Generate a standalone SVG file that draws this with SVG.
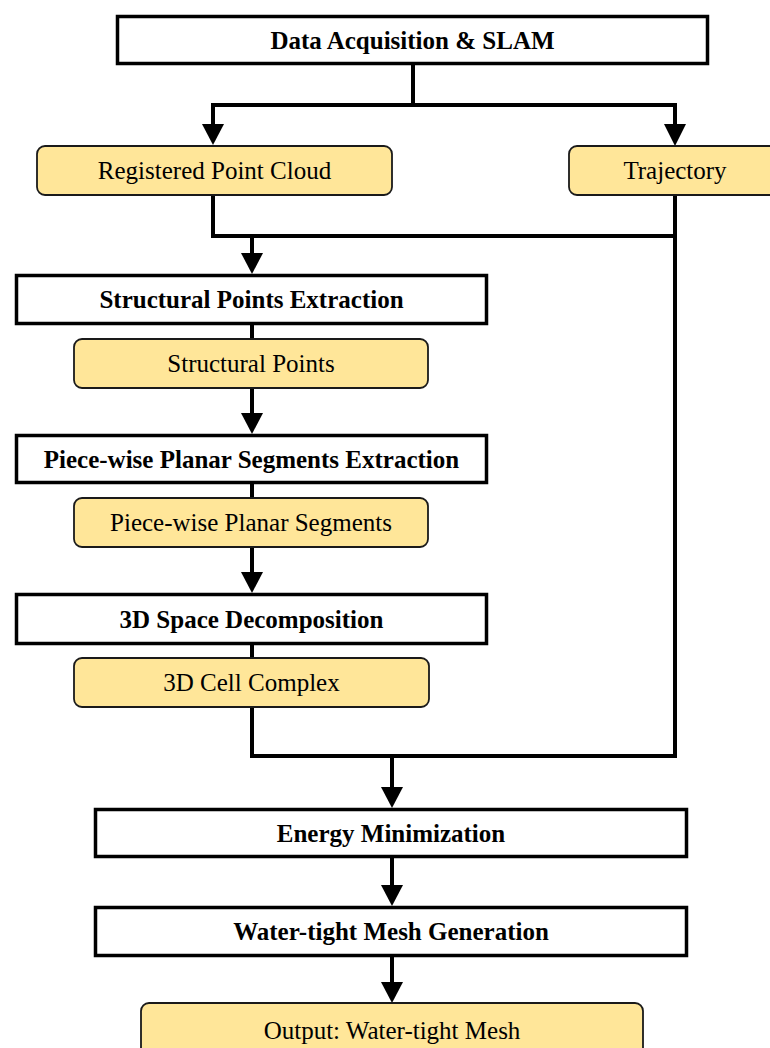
<svg xmlns="http://www.w3.org/2000/svg" width="770" height="1048" viewBox="0 0 770 1048">
<style>
.proc{fill:#ffffff;stroke:#000000;stroke-width:3.5}
.data{fill:#FFE699;stroke:#1a1a1a;stroke-width:1.8}
.pt{font-family:"Liberation Serif","Times New Roman",serif;font-size:25px;font-weight:bold;text-anchor:middle;fill:#000}
.dt{font-family:"Liberation Serif","Times New Roman",serif;font-size:25px;text-anchor:middle;fill:#000}
.ln{fill:none;stroke:#000;stroke-width:4;stroke-linejoin:miter}
.ah{fill:#000}
</style>
<rect width="770" height="1048" fill="#ffffff"/>
<g id="connectors">
<path class="ln" d="M413,65 V105 M211,105 H677 M213,105 V128 M675,105 V128"/>
<path class="ln" d="M213,195 V236 H675 M675,195 V756 H252 V707"/>
<path class="ln" d="M252,236 V258"/>
<path class="ln" d="M252,325 V339"/>
<path class="ln" d="M252,388 V418"/>
<path class="ln" d="M252,484 V498"/>
<path class="ln" d="M252,547 V577"/>
<path class="ln" d="M252,645 V658"/>
<path class="ln" d="M392,756 V792"/>
<path class="ln" d="M392,858 V890"/>
<path class="ln" d="M392,957 V987"/>
<polygon class="ah" points="202,124 224,124 213,145"/>
<polygon class="ah" points="664,124 686,124 675,146"/>
<polygon class="ah" points="241,253 263,253 252,274"/>
<polygon class="ah" points="241,413 263,413 252,434"/>
<polygon class="ah" points="241,572 263,572 252,593"/>
<polygon class="ah" points="381,787 403,787 392,808"/>
<polygon class="ah" points="381,885 403,885 392,906"/>
<polygon class="ah" points="381,982 403,982 392,1003"/>
</g>
<g id="node-slam">
<rect class="proc" x="117.5" y="16.5" width="590" height="47"/>
<text class="pt" x="412.5" y="49">Data Acquisition &amp; SLAM</text>
</g>
<g id="node-rpc">
<rect class="data" x="37" y="146" width="355" height="49" rx="8"/>
<text class="dt" x="214.5" y="179">Registered Point Cloud</text>
</g>
<g id="node-traj">
<rect class="data" x="569" y="146" width="214" height="49" rx="8"/>
<text class="dt" x="675" y="179">Trajectory</text>
</g>
<g id="node-spe">
<rect class="proc" x="16.5" y="275.5" width="470" height="48"/>
<text class="pt" x="251.5" y="308">Structural Points Extraction</text>
</g>
<g id="node-sp">
<rect class="data" x="74" y="339" width="354" height="49" rx="8"/>
<text class="dt" x="251" y="372">Structural Points</text>
</g>
<g id="node-pwpse">
<rect class="proc" x="16.5" y="435.5" width="470" height="47"/>
<text class="pt" x="251.5" y="467.5">Piece-wise Planar Segments Extraction</text>
</g>
<g id="node-pwps">
<rect class="data" x="74" y="498" width="354" height="49" rx="8"/>
<text class="dt" x="251" y="531">Piece-wise Planar Segments</text>
</g>
<g id="node-3dsd">
<rect class="proc" x="16.5" y="594.5" width="470" height="49"/>
<text class="pt" x="251.5" y="627.5">3D Space Decomposition</text>
</g>
<g id="node-3dcc">
<rect class="data" x="74" y="658" width="355" height="49" rx="8"/>
<text class="dt" x="251.5" y="691">3D Cell Complex</text>
</g>
<g id="node-em">
<rect class="proc" x="95.5" y="809.5" width="591" height="47"/>
<text class="pt" x="391" y="841.5">Energy Minimization</text>
</g>
<g id="node-wmg">
<rect class="proc" x="95.5" y="907.5" width="591" height="48"/>
<text class="pt" x="391" y="940">Water-tight Mesh Generation</text>
</g>
<g id="node-output">
<rect class="data" x="141" y="1003" width="502" height="56" rx="8"/>
<text class="dt" x="392" y="1039">Output: Water-tight Mesh</text>
</g>
</svg>
